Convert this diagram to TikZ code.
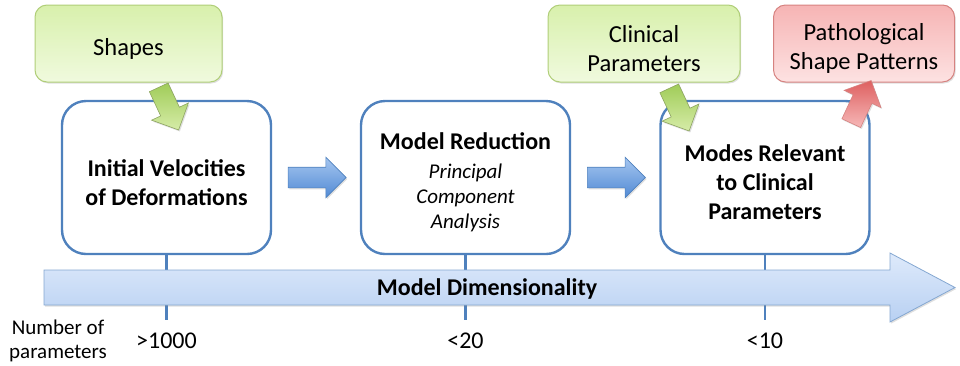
\documentclass[tikz,border=0pt]{standalone}
\usepackage{fontspec}
\setmainfont{Carlito}
\usetikzlibrary{shapes.arrows,shadows,calc}

\definecolor{boxblue}{RGB}{79,129,189}
\definecolor{greenedge}{RGB}{176,206,120}
\definecolor{greentop}{RGB}{216,240,172}
\definecolor{greenbot}{RGB}{240,250,222}
\definecolor{rededge}{RGB}{214,130,128}
\definecolor{redtop}{RGB}{246,180,180}
\definecolor{redbot}{RGB}{253,226,226}
\definecolor{bartop}{RGB}{222,234,251}
\definecolor{barbot}{RGB}{184,208,242}
\definecolor{flowtop}{RGB}{165,198,240}
\definecolor{flowbot}{RGB}{82,138,212}
\definecolor{feedtop}{RGB}{160,204,88}
\definecolor{feedbot}{RGB}{214,236,168}
\definecolor{emittop}{RGB}{222,96,96}
\definecolor{emitbot}{RGB}{246,184,184}

% extra height on a first line, to sit the text a bit lower in its box
\newcommand{\lowline}{\rule{0pt}{27pt}}

\tikzset{
  softshadow/.style={drop shadow={opacity=0.25, shadow xshift=1.2pt, shadow yshift=-1.5pt}},
  stagebox/.style={draw=boxblue, line width=2.4pt, rounded corners=24pt, fill=white,
    minimum width=209pt, minimum height=153pt, align=center,
    font=\fontsize{24}{29}\selectfont\bfseries},
  inputbox/.style={draw=greenedge, line width=1pt, rounded corners=12pt, softshadow,
    top color=greentop, bottom color=greenbot, minimum height=77pt, align=center,
    font=\fontsize{24.5}{29}\selectfont},
  outputbox/.style={inputbox, draw=rededge, top color=redtop, bottom color=redbot},
  blockarrow/.style={single arrow, inner xsep=0pt, inner ysep=10pt, text height=0pt, text depth=0pt,
    single arrow head extend=10pt, single arrow tip angle=90, line width=0.6pt, softshadow},
  flowarrow/.style={blockarrow, minimum height=58pt, draw=boxblue,
    top color=flowtop, bottom color=flowbot},
  feedarrow/.style={blockarrow, minimum height=47pt, draw=greenedge!80!black,
    top color=feedtop, bottom color=feedbot},
  emitarrow/.style={blockarrow, minimum height=47pt, draw=rededge,
    top color=emittop, bottom color=emitbot},
  tick/.style={draw=boxblue, line width=2.6pt},
  count/.style={font=\fontsize{24}{28}\selectfont}
}

\begin{document}
\begin{tikzpicture}[x=1pt,y=-1pt]
\useasboundingbox (0,0) rectangle (960,365);
% stages
\node[stagebox] (init) at (166.5,177.5) {\lowline Initial Velocities\\of Deformations};
\node[stagebox] (reduc) at (465.5,177.5) {\lowline Model Reduction\\
  \mdseries\itshape\fontsize{21}{25}\selectfont Principal\\[-4pt]
  \mdseries\itshape\fontsize{21}{25}\selectfont Component\\[-4pt]
  \mdseries\itshape\fontsize{21}{25}\selectfont Analysis};
\node[stagebox] (modes) at (765,177.5) {\lowline Modes Relevant\\to Clinical\\Parameters};
% flow between stages
\node[flowarrow] (ab) at ($(init.east)!0.5!(reduc.west)+(-4,0)$) {};
\node[flowarrow] (bc) at ($(reduc.east)!0.5!(modes.west)+(-4,0)$) {};
% dimensionality scale
\foreach \s in {init,reduc,modes}
  \draw[tick] (\s.south) -- (\s.south |- 0,320);
\coordinate (dimtail) at (44,287.5);
\coordinate (dimtip) at (955,287.5);
\path[draw=boxblue!70!white, line width=0.8pt, top color=bartop, bottom color=barbot, softshadow]
  (dimtail) ++(0,-17.5) -- (890,270) -- (890,253) -- (dimtip) -- (890,322) -- (890,305)
  -- ($(dimtail)+(0,17.5)$) -- cycle;
\node[font=\fontsize{24}{28}\selectfont\bfseries] (dimlabel) at (487,289) {Model Dimensionality};
\node[count] (n1) at (init.south |- 0,341) {>1000};
\node[count] (n2) at (reduc.south |- 0,341) {<20};
\node[count] (n3) at (modes.south |- 0,341) {<10};
\node[align=center, font=\fontsize{21}{24}\selectfont] (nlabel) at (58,341) {Number of\\parameters};
% inputs and output
\node[feedarrow, rotate=-65] (sa) at (166.5,104) {};
\node[feedarrow, rotate=-65] (ca) at (677,105) {};
\node[inputbox, minimum width=187pt] (shapes) at (128.5,43.5) {\lowline Shapes};
\node[inputbox, minimum width=192pt] (clin) at (644,43.5) {\lowline Clinical\\Parameters};
\node[outputbox, minimum width=181pt] (patho) at (864,43.5) {\lowline Pathological\\Shape Patterns};
\node[emitarrow, rotate=65] (pa) at (859,106.5) {};
\end{tikzpicture}
\end{document}
